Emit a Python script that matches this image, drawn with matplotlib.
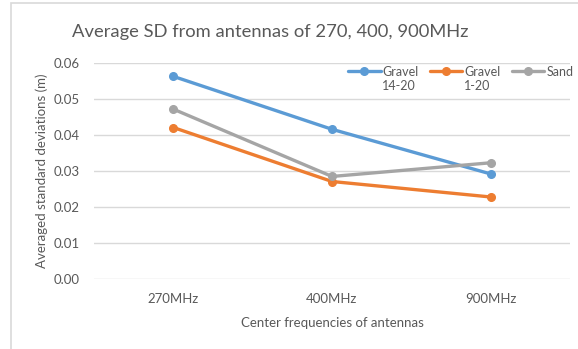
import matplotlib
matplotlib.use("Agg")
import matplotlib.pyplot as plt
from matplotlib.patches import Rectangle

categories = ["270MHz", "400MHz", "900MHz"]
series_names = ["Gravel\n14-20", "Gravel\n1-20", "Sand"]
gravel_14_20 = [0.0562, 0.0415, 0.0291]
gravel_1_20 = [0.0420, 0.0270, 0.0227]
sand = [0.0471, 0.0284, 0.0322]
yticks = [0.00, 0.01, 0.02, 0.03, 0.04, 0.05, 0.06]

colors = ["#5B9BD5", "#ED7D31", "#A5A5A5"]
txt = "#595959"

plt.rcParams['font.family'] = ['Lato', 'DejaVu Sans']

W, H = 578, 349
fig = plt.figure(figsize=(W / 100, H / 100), dpi=100)
fig.patch.set_facecolor("white")

# chart border
fig.add_artist(Rectangle((11 / W, -0.05), 1.2, 1 - 3 / H + 0.05, transform=fig.transFigure,
                         fill=False, edgecolor="#D9D9D9", linewidth=1.2))

left, right = 94 / W, 570 / W
top, bottom = 1 - 62.7 / H, 1 - 278.7 / H
ax = fig.add_axes([left, bottom, right - left, top - bottom])

x = list(range(len(categories)))
lines = []
for vals, name, c in zip([gravel_14_20, gravel_1_20, sand], series_names, colors):
    ln, = ax.plot(x, vals, color=c, linewidth=2.4, marker="o", markersize=5.5, label=name,
                  solid_capstyle="round", zorder=3)
    lines.append(ln)

ax.set_xlim(-0.5, len(categories) - 0.5)
ax.set_ylim(0, 0.06)
ax.set_yticks(yticks)
ax.set_yticklabels([f"{v:.2f}" for v in yticks])
ax.set_xticks(x)
ax.set_xticklabels(categories)
ax.tick_params(axis="both", length=0, colors=txt, labelsize=9.5)
ax.tick_params(axis="y", pad=10)
ax.tick_params(axis="x", pad=10)
ax.grid(axis="y", color="#D9D9D9", linewidth=1)
ax.set_axisbelow(True)
for s in ax.spines.values():
    s.set_visible(False)

ax.set_xlabel("Center frequencies of antennas", color=txt, fontsize=9.5, labelpad=9)
ax.set_ylabel("Averaged standard deviations (m)", color=txt, fontsize=9.5, labelpad=4)

fig.text(270 / W, 1 - 32 / H, "Average SD from antennas of 270, 400, 900MHz",
         ha="center", va="center", fontsize=13.2, color=txt)

# pad single-line labels so every entry is top-aligned, like the reference
leg_labels = [n if "\n" in n else n + "\n " for n in series_names]
leg = ax.legend(lines, leg_labels, ncol=3, loc="upper right", bbox_to_anchor=(1.025, 1.025),
                frameon=False, fontsize=9, handlelength=2.6, handletextpad=0.15,
                columnspacing=0.9, labelcolor=txt, borderaxespad=0.3)
# align handles with the first text line
for h in leg.legend_handles:
    yd = h.get_ydata()
    h.set_ydata([v + 6.0 for v in yd])

fig.savefig("out.png", dpi=100, facecolor="white")
